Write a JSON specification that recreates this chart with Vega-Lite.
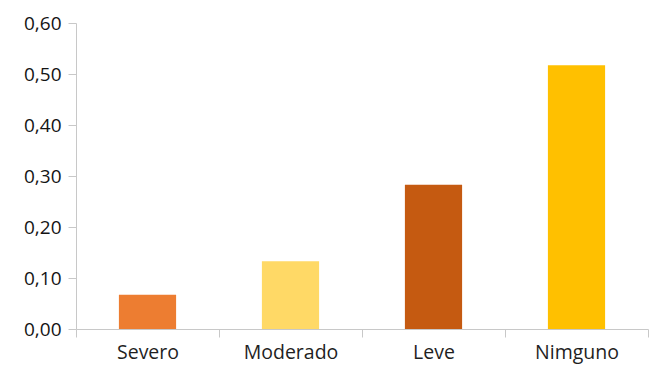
{
  "$schema": "https://vega.github.io/schema/vega-lite/v6.json",
  "autosize": {"type": "none"},
  "width": 572,
  "height": 306,
  "padding": {"left": 76, "top": 23, "right": 8, "bottom": 46},
  "background": "white",
  "config": {
    "view": {"stroke": null},
    "font": "Open Sans"
  },
  "data": {
    "values": [
      {"categoria": "Severo", "valor": 0.067},
      {"categoria": "Moderado", "valor": 0.133},
      {"categoria": "Leve", "valor": 0.283},
      {"categoria": "Nimguno", "valor": 0.517}
    ]
  },
  "mark": {"type": "bar", "width": {"band": 0.4}},
  "encoding": {
    "x": {
      "field": "categoria",
      "type": "nominal",
      "sort": null,
      "scale": {"paddingInner": 0, "paddingOuter": 0},
      "axis": {
        "title": null,
        "labelAngle": 0,
        "tickBand": "extent",
        "domainColor": "#c8c8c8",
        "tickColor": "#c8c8c8",
        "tickSize": 8,
        "labelFontSize": 19.5,
        "labelColor": "#1f1f1f",
        "labelPadding": 6
      }
    },
    "y": {
      "field": "valor",
      "type": "quantitative",
      "scale": {"domain": [0, 0.6], "nice": false},
      "axis": {
        "title": null,
        "values": [0, 0.1, 0.2, 0.3, 0.4, 0.5, 0.6],
        "labelExpr": "replace(format(datum.value, '.2f'), '.', ',')",
        "grid": false,
        "domainColor": "#c8c8c8",
        "tickColor": "#c8c8c8",
        "tickSize": 8,
        "labelFontSize": 19,
        "labelColor": "#141414",
        "labelPadding": 7
      }
    },
    "color": {
      "field": "categoria",
      "type": "nominal",
      "sort": null,
      "scale": {
        "domain": ["Severo", "Moderado", "Leve", "Nimguno"],
        "range": ["#ED7D31", "#FFD966", "#C55A11", "#FFC000"]
      },
      "legend": null
    }
  }
}
